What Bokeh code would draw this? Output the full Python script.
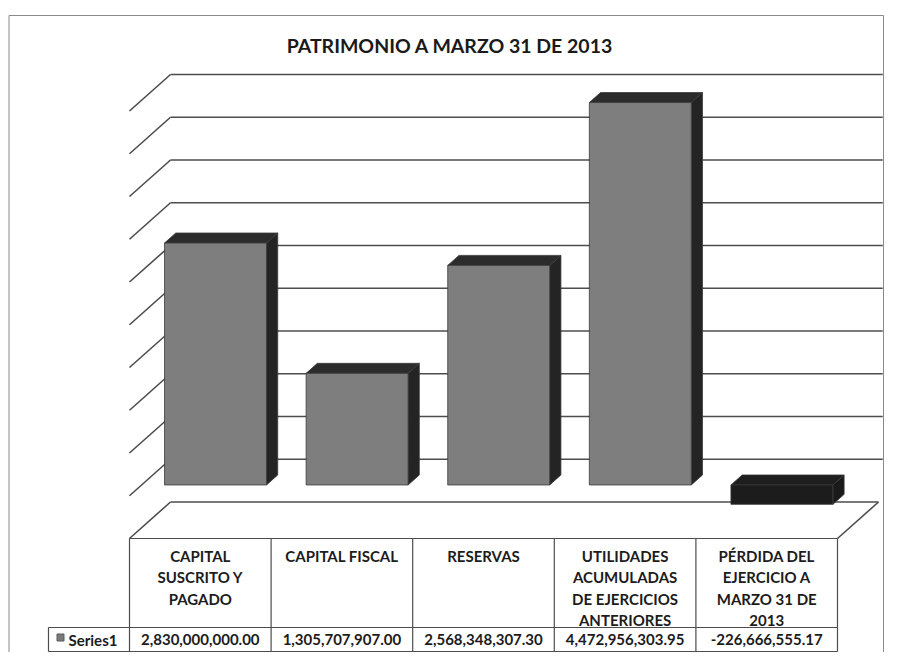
from bokeh.plotting import figure
from bokeh.models import Range1d
from bokeh.core.properties import value
from bokeh.embed import file_html
from bokeh.resources import INLINE

# ---------------- data ----------------
chart_title = "PATRIMONIO A  MARZO 31 DE 2013"
categories = [
    "CAPITAL SUSCRITO Y PAGADO",
    "CAPITAL FISCAL",
    "RESERVAS",
    "UTILIDADES ACUMULADAS DE EJERCICIOS ANTERIORES",
    "PÉRDIDA DEL EJERCICIO A MARZO 31 DE 2013",
]
category_lines = [
    ["CAPITAL", "SUSCRITO Y", "PAGADO"],
    ["CAPITAL FISCAL"],
    ["RESERVAS"],
    ["UTILIDADES", "ACUMULADAS", "DE EJERCICIOS", "ANTERIORES"],
    ["PÉRDIDA DEL", "EJERCICIO A", "MARZO 31 DE", "2013"],
]
series_name = "Series1"
values = [2830000000.00, 1305707907.00, 2568348307.30, 4472956303.95, -226666555.17]
value_labels = [f"{v:,.2f}" for v in values]
axis_min, axis_max, axis_step = -0.5e9, 4.5e9, 0.5e9
UNIT = 1e9  # plot in billions

# ---------------- layout / style constants ----------------
W, H = 884, 652
PX_X = 141.6          # px per category
PX_V = 85.5           # px per billion
X0_PX = 129.0         # canvas px of X=0 (front plane z=0)
V0_PX = 495.25        # canvas px from top of V=0 (front plane z=0)
DX = 41.0 / PX_X      # full depth offset in X units
DV = 36.5 / PX_V      # full depth offset in V units
Z_FRONT, Z_BACK = 0.295, 0.569
BAR_L, BAR_R = 0.162, 0.882
WALL_END = 5.03
HEADER_H = 89.0 / PX_V
ROW_H = 24.0 / PX_V
SER_LEFT = -81.0 / PX_X

FONT = value("Lato")
LINE_C = "#4d4d4d"


def proj(X, V, z):
    return X + z * DX, V + z * DV


p = figure(width=W, height=H, output_backend="svg", toolbar_location=None,
           x_axis_location=None, y_axis_location=None, min_border=0,
           x_range=Range1d(-X0_PX / PX_X, (W - X0_PX) / PX_X),
           y_range=Range1d((V0_PX - H) / PX_V, V0_PX / PX_V))
p.outline_line_color = None
p.xgrid.visible = False
p.ygrid.visible = False
p.background_fill_color = "white"
p.border_fill_color = "white"

n = len(values)
vmin, vmax, vstep = axis_min / UNIT, axis_max / UNIT, axis_step / UNIT

# outer chart border (left, top, right)
xs0, xs1 = p.x_range.start + 8.5 / PX_X, p.x_range.end - 1 / PX_X
ytop = p.y_range.end - 15 / PX_V
p.line([xs0, xs0, xs1, xs1], [p.y_range.start, ytop, ytop, p.y_range.start],
       line_color="#8a8a8a", line_width=1)

# walls: gridlines on back wall + diagonals on side wall
grid_vals = []
g = vmin
while g <= vmax + 1e-9:
    grid_vals.append(round(g, 6))
    g += vstep

gx, gy = [], []
for g in grid_vals:
    end = n if g == vmin else WALL_END
    a = proj(0, g, 1)
    b = proj(end, g, 1)
    gx.append([a[0], b[0]]); gy.append([a[1], b[1]])
    c = proj(0, g, 0)
    gx.append([c[0], a[0]]); gy.append([c[1], a[1]])
# floor right edge
a = proj(n, vmin, 1); b = proj(n, vmin, 0)
gx.append([a[0], b[0]]); gy.append([a[1], b[1]])
p.multi_line(gx, gy, line_color=LINE_C, line_width=1.6)

# bars (3D boxes)
fx, fy, fc = [], [], []
for i, v in enumerate(values):
    val = v / UNIT
    lo, hi = min(0, val), max(0, val)
    a, b = i + BAR_L, i + BAR_R
    neg = val < 0
    side = [proj(b, lo, Z_FRONT), proj(b, hi, Z_FRONT), proj(b, hi, Z_BACK), proj(b, lo, Z_BACK)]
    top = [proj(a, hi, Z_FRONT), proj(b, hi, Z_FRONT), proj(b, hi, Z_BACK), proj(a, hi, Z_BACK)]
    front = [proj(a, lo, Z_FRONT), proj(b, lo, Z_FRONT), proj(b, hi, Z_FRONT), proj(a, hi, Z_FRONT)]
    for face, col in ((side, "#1a1a1a" if neg else "#242424"),
                      (top, "#1e1e1e" if neg else "#2c2c2c"),
                      (front, "#1c1c1c" if neg else "#7e7e7e")):
        fx.append([q[0] for q in face]); fy.append([q[1] for q in face]); fc.append(col)
p.patches(fx, fy, fill_color=fc, line_color="#3a3a3a", line_width=0.8)

# data table
h_top = vmin
h_bot = vmin - HEADER_H
d_bot = h_bot - ROW_H
tx, ty = [], []
for k in range(n + 1):
    tx.append([k, k]); ty.append([h_top, d_bot])
tx.append([SER_LEFT, n]); ty.append([h_bot, h_bot])
tx.append([SER_LEFT, n]); ty.append([d_bot, d_bot])
tx.append([SER_LEFT, SER_LEFT]); ty.append([h_bot, d_bot])
tx.append([0, n]); ty.append([h_top, h_top])
p.multi_line(tx, ty, line_color=LINE_C, line_width=1.2)

hx, hy, ht = [], [], []
for i, lines in enumerate(category_lines):
    for j, t in enumerate(lines):
        hx.append(i + 0.5)
        hy.append(h_top - (17 + j * 21.5) / PX_V)
        ht.append(t)
p.text(hx, hy, text=ht, text_font=FONT, text_font_style="bold", text_font_size="15px",
       text_align="center", text_baseline="middle", text_color="#1c1c1c")

ymid = (h_bot + d_bot) / 2
p.text([i + 0.5 for i in range(n)], [ymid] * n, text=value_labels, text_font=FONT,
       text_font_style="bold", text_font_size="15px", text_align="center",
       text_baseline="middle", text_color="#1c1c1c")

p.scatter([(-69) / PX_X], [ymid + 2 / PX_V], marker="square", size=7,
          fill_color="#7a7a7a", line_color="#5a5a5a")
p.text([(-61) / PX_X], [ymid], text=[series_name], text_font=FONT, text_font_style="bold",
       text_font_size="15px", text_align="left", text_baseline="middle", text_color="#1c1c1c")

# title
p.text([(p.x_range.start + p.x_range.end) / 2 + 10 / PX_X], [(V0_PX - 45) / PX_V], text=[chart_title],
       text_font=FONT, text_font_style="bold", text_font_size="19.5px",
       text_align="center", text_baseline="middle", text_color="#1a1a1a")

open("out.html", "w").write(file_html(p, INLINE))
